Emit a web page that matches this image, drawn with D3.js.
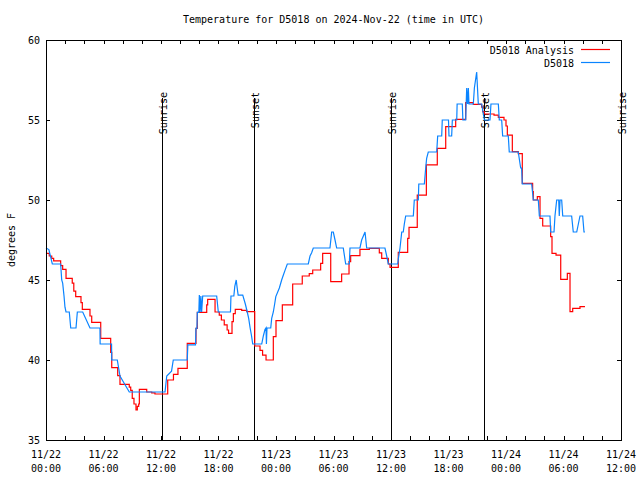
<!DOCTYPE html>
<html><head><meta charset="utf-8">
<script src="https://cdn.jsdelivr.net/npm/d3@7"></script>
<style>
html,body{margin:0;padding:0;background:#fff;}
text{font-family:"DejaVu Sans Mono","Liberation Mono",monospace;font-size:10px;fill:#000;}
</style></head>
<body><svg id="c" width="640" height="480"></svg>
<script>
// ---- data (hours since 2024-11-22 00:00 UTC, degrees F) ----
const titleText = "Temperature for D5018 on 2024-Nov-22 (time in UTC)";
const yLabel = "degrees F";
const seriesNames = ["D5018 Analysis", "D5018"];
const seriesColors = ["#ff0000", "#0a84ff"];
const yTicks = [35, 40, 45, 50, 55, 60];
const sunHours = [12.1, 21.7, 36.0, 45.7, 60.0];
const sunLabels = ["Sunrise", "Sunset", "Sunrise", "Sunset", "Sunrise"];

const analysisHours = [0,0.34,0.6,0.8,1.53,1.74,2.09,2.74,2.9,3.10,3.65,3.79,4.59,4.77,5.71,6.75,6.86,7.48,7.72,8.69,8.84,9.0,9.18,9.39,9.53,9.67,9.74,10.51,11.03,11.37,12.7,13.3,13.77,14.74,15.65,15.79,16.77,16.87,17.64,18.08,18.3,18.6,18.9,19.05,19.41,19.55,19.75,20.42,20.94,21.78,22.33,22.6,22.96,23.72,24.0,24.66,25.74,26.74,27.47,27.83,28.66,28.87,29.71,30.85,31.62,31.79,32.76,33.74,34.78,35.03,35.72,35.9,36.76,37.74,37.88,38.74,39.69,40.83,41.71,42.75,43.79,44.59,45.46,45.56,45.74,46.75,47.2,47.79,48.0,48.14,48.66,49.28,49.70,50.78,50.85,51.27,51.55,51.83,52.66,52.80,53.22,53.71,54.40,54.68,54.96,55.72,56.24];
const analysisTemps = [46.67,46.5,46.35,46.19,45.9,45.67,45.1,44.8,44.3,43.96,43.58,43.17,42.75,42.35,41.35,40.48,39.52,39.02,38.48,38.3,38.1,37.6,37.25,36.88,37.1,37.25,38.17,38.0,37.94,37.875,38.75,39.1,39.48,41.04,41.98,42.98,43.44,43.79,43.0,42.8,42.5,42.2,41.875,41.67,42.4,42.9,43.17,43.1,43.02,40.875,40.6,40.3,40.0,41.46,42.46,43.44,44.75,45.25,45.4,45.625,46.04,46.67,44.9,45.375,46.15,46.52,46.92,46.98,46.7,46.35,46.0,45.79,46.73,47.6,48.29,50.31,52.19,53.23,54.58,55.04,56.08,55.98,55.8,55.52,55.375,55.3,55.17,55.0,54.625,54.06,53.02,52.9,51.04,50.52,50.0,50.21,48.85,48.375,47.71,46.67,46.56,45.04,45.42,43.02,43.23,43.33,43.33];

const obsHours = [0,0.3,0.66,1.53,1.64,1.74,1.88,1.98,2.09,2.43,2.58,3.13,3.27,3.83,4.59,5.63,5.65,6.84,6.86,7.44,7.72,8.2,8.69,12.42,12.6,13.1,13.28,14.74,14.8,15.6,15.65,15.75,15.79,15.95,16.0,16.08,16.16,16.24,16.35,17.81,17.98,19.25,19.3,19.6,19.7,19.85,19.95,20.05,20.53,20.8,21.0,21.15,21.3,21.45,21.57,22.51,22.68,22.85,22.96,23.0,23.06,23.45,23.55,23.72,23.86,23.98,24.35,24.59,24.76,24.94,25.18,27.37,27.55,27.72,27.89,29.63,29.81,29.98,30.16,30.33,31.02,31.27,31.65,31.72,32.76,32.94,33.29,33.46,35.37,35.55,35.72,36.70,36.76,36.94,37.12,37.28,37.39,37.53,38.33,38.43,38.85,38.9,39.48,39.62,39.72,39.89,40.77,40.87,41.29,41.35,42.0,42.05,42.33,42.4,42.86,42.9,43.44,43.5,43.79,43.9,44.0,44.07,44.14,44.59,44.70,44.94,45.11,45.46,45.74,46.33,46.43,47.2,47.3,47.55,47.65,48.24,48.34,49.28,49.53,49.63,49.70,50.68,50.85,51.37,51.48,52.59,52.66,53.01,53.11,53.29,53.50,53.56,53.64,53.81,53.92,54.85,55.02,55.38,55.55,55.72,56.0,56.14,56.24];
const obsTemps = [47.0,46.9,46.0,46.0,45.0,44.8,44.0,43.3,43.0,43.0,42.0,42.0,43.0,43.0,42.0,42.0,41.0,41.0,40.0,40.0,39.0,38.5,38.0,38.0,39.0,39.3,40.0,40.0,40.94,40.94,41.98,41.98,42.98,42.98,44.06,43.0,44.0,43.0,44.0,44.0,43.0,43.0,44.0,44.0,44.6,45.0,44.5,44.06,44.06,43.5,43.0,42.6,42.0,41.5,41.0,41.0,41.5,41.9,42.0,41.0,42.0,42.0,42.6,43.0,43.5,43.96,44.5,45.0,45.3,45.6,46.0,46.0,46.5,46.7,47.0,47.0,48.0,48.0,47.5,47.0,47.0,46.0,46.0,47.0,47.0,47.5,48.0,47.0,47.0,46.5,46.0,46.0,46.3,47.0,48.0,48.0,48.5,49.0,49.0,50.0,50.0,51.0,51.0,52.0,52.6,53.0,53.0,54.0,54.0,55.0,55.0,54.0,54.0,55.0,55.0,56.0,56.0,55.0,55.0,57.0,56.0,57.0,56.0,56.0,57.0,58.0,56.0,56.0,55.0,55.0,56.0,56.0,55.0,55.0,54.0,54.0,53.0,53.0,52.0,52.0,51.0,51.0,50.0,50.0,49.0,49.0,48.0,48.0,49.0,50.0,50.0,49.0,50.0,50.0,49.0,49.0,48.0,48.0,48.5,49.0,49.0,48.0,48.0];

// ---- drawing ----
const t0 = Date.UTC(2024, 10, 22, 0, 0);
const H = 3600 * 1000;
const toDate = h => new Date(t0 + h * H);
const svg = d3.select("#c");
const L = 46, R = 621, T = 40, B = 440;
const x = d3.scaleUtc().domain([toDate(0), toDate(60)]).range([L, R]);
const y = d3.scaleLinear().domain([35, 60]).range([B, T]);

const analysis = analysisHours.map((h, i) => ({d: toDate(h), v: analysisTemps[i]}));
const obs = obsHours.map((h, i) => ({d: toDate(h), v: obsTemps[i]}));

// title
svg.append("text").attr("x", (L + R) / 2).attr("y", 23).attr("text-anchor", "middle").text(titleText);
// y label
svg.append("text").attr("transform", `translate(15,${(T + B) / 2}) rotate(-90)`).attr("text-anchor", "middle").text(yLabel);

// axes
const xTicks = d3.utcHour.every(2).range(toDate(0), toDate(60.01));
const fmtD = d3.utcFormat("%m/%d"), fmtT = d3.utcFormat("%H:%M");
const gx = svg.append("g").attr("shape-rendering", "crispEdges");
xTicks.forEach(d => {
  const xx = Math.round(x(d)) + 0.5;
  gx.append("line").attr("x1", xx).attr("x2", xx).attr("y1", B).attr("y2", B - 4).attr("stroke", "#000");
  gx.append("line").attr("x1", xx).attr("x2", xx).attr("y1", T).attr("y2", T + 4).attr("stroke", "#000");
  if (d.getUTCHours() % 6 === 0) {
    const tx = gx.append("text").attr("x", x(d)).attr("text-anchor", "middle");
    tx.append("tspan").attr("x", x(d)).attr("y", 458).text(fmtD(d));
    tx.append("tspan").attr("x", x(d)).attr("y", 472).text(fmtT(d));
  }
});
yTicks.forEach(v => {
  const yy = Math.round(y(v)) + 0.5;
  gx.append("line").attr("x1", L).attr("x2", L + 4).attr("y1", yy).attr("y2", yy).attr("stroke", "#000");
  gx.append("line").attr("x1", R).attr("x2", R - 4).attr("y1", yy).attr("y2", yy).attr("stroke", "#000");
  gx.append("text").attr("x", L - 6).attr("y", y(v)).attr("dy", "0.35em").attr("text-anchor", "end").text(v);
});

// sun lines
sunHours.forEach((h, i) => {
  const xx = Math.round(x(toDate(h))) + 0.5;
  svg.append("line").attr("x1", xx).attr("x2", xx).attr("y1", 98).attr("y2", B)
    .attr("stroke", "#000").attr("shape-rendering", "crispEdges");
  svg.append("text").attr("transform", `translate(${xx + 1},92) rotate(-90)`)
    .attr("text-anchor", "end").attr("dy", "0.35em").text(sunLabels[i]);
});

// series
const lineStep = d3.line().x(d => x(d.d)).y(d => y(d.v)).curve(d3.curveStepAfter);
const lineLin = d3.line().x(d => x(d.d)).y(d => y(d.v));
svg.append("path").datum(analysis).attr("d", lineStep).attr("fill", "none")
  .attr("stroke", seriesColors[0]).attr("stroke-width", 1.2);
svg.append("path").datum(obs).attr("d", lineLin).attr("fill", "none")
  .attr("stroke", seriesColors[1]).attr("stroke-width", 1.2);

// legend
seriesNames.forEach((n, i) => {
  const ly = 50 + i * 13;
  svg.append("text").attr("x", 574).attr("y", ly).attr("dy", "0.35em").attr("text-anchor", "end").text(n);
  svg.append("line").attr("x1", 581).attr("x2", 610).attr("y1", ly - 0.5).attr("y2", ly - 0.5)
    .attr("stroke", seriesColors[i]).attr("stroke-width", 1.2);
});

// frame
svg.append("rect").attr("x", L + 0.5).attr("y", T + 0.5).attr("width", R - L - 1 + 0.5).attr("height", B - T)
  .attr("fill", "none").attr("stroke", "#000").attr("shape-rendering", "crispEdges");
</script></body></html>
